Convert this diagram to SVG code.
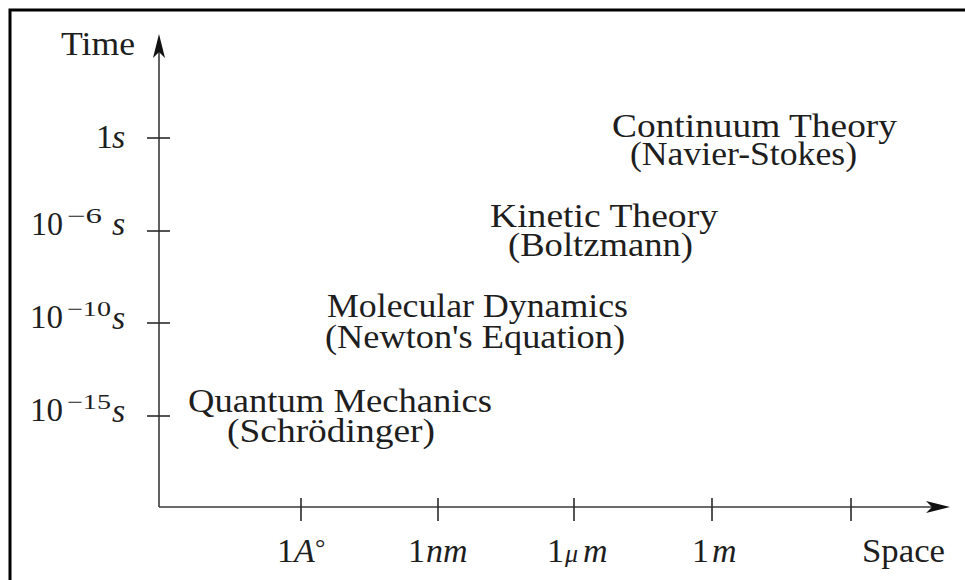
<svg xmlns="http://www.w3.org/2000/svg" width="965" height="580" viewBox="0 0 965 580">
<style>
  text { font-family: "Liberation Serif", "Times New Roman", serif; fill: #1e1e1e; }
  .lbl { font-size: 34px; }
  .ax { font-size: 34px; }
  .sup { font-size: 21px; }
  .it { font-style: italic; }
  .axis { stroke: #3a3a3a; stroke-width: 1.6; fill: none; }
  .tick { stroke: #2a2a2a; stroke-width: 1.6; }
  .head { fill: #111; stroke: none; }
</style>
<rect x="10" y="10" width="1000" height="1000" fill="#fff" stroke="#000" stroke-width="3"/>

<g id="connectors">
  <path class="axis" d="M159,507 L159,50"/>
  <path class="axis" d="M159,507 L934,507"/>
  <path class="head" d="M159,34 L165,58 L159,52 L153,58 Z"/>
  <path class="head" d="M950,507 L926,501 L932,507 L926,513 Z"/>
  <g class="tick">
    <line x1="147" y1="138" x2="170" y2="138"/>
    <line x1="147" y1="231" x2="170" y2="231"/>
    <line x1="147" y1="323" x2="170" y2="323"/>
    <line x1="147" y1="416" x2="170" y2="416"/>
    <line x1="301" y1="498" x2="301" y2="521"/>
    <line x1="438" y1="498" x2="438" y2="521"/>
    <line x1="574" y1="498" x2="574" y2="521"/>
    <line x1="712" y1="498" x2="712" y2="521"/>
    <line x1="851" y1="498" x2="851" y2="521"/>
  </g>
</g>

<g id="axis-labels">
  <text class="ax" x="61" y="55" textLength="74" lengthAdjust="spacingAndGlyphs">Time</text>
  <text class="ax" x="862" y="562" textLength="83" lengthAdjust="spacingAndGlyphs">Space</text>
</g>

<g id="time-ticks">
  <text class="ax" x="96" y="148">1<tspan class="it" x="112">s</tspan></text>
  <text class="ax" x="31" y="235" textLength="32" lengthAdjust="spacingAndGlyphs">10</text>
  <text class="sup" x="67" y="223" textLength="35" lengthAdjust="spacingAndGlyphs">−6</text>
  <text class="ax it" x="112" y="235">s</text>
  <text class="ax" x="30" y="328" textLength="33" lengthAdjust="spacingAndGlyphs">10</text>
  <text class="sup" x="67" y="316" textLength="44" lengthAdjust="spacingAndGlyphs">−10</text>
  <text class="ax it" x="112" y="329">s</text>
  <text class="ax" x="30" y="421" textLength="33" lengthAdjust="spacingAndGlyphs">10</text>
  <text class="sup" x="67" y="409" textLength="44" lengthAdjust="spacingAndGlyphs">−15</text>
  <text class="ax it" x="112" y="422">s</text>
</g>

<g id="space-ticks">
  <text class="ax" x="277" y="562">1<tspan class="it" x="294">A</tspan><tspan x="315" y="556" font-size="26">°</tspan></text>
  <text class="ax" x="408" y="562">1<tspan class="it" x="426">nm</tspan></text>
  <text class="ax" x="547" y="562">1<tspan class="it" x="565" font-size="26">μ</tspan><tspan class="it" x="583">m</tspan></text>
  <text class="ax" x="692" y="562">1<tspan class="it" x="712">m</tspan></text>
</g>

<g id="node-continuum">
  <text class="lbl" x="612" y="137" textLength="285" lengthAdjust="spacingAndGlyphs">Continuum Theory</text>
  <text class="lbl" x="630" y="165" textLength="227" lengthAdjust="spacingAndGlyphs">(Navier-Stokes)</text>
</g>

<g id="node-kinetic">
  <text class="lbl" x="490" y="227" textLength="228" lengthAdjust="spacingAndGlyphs">Kinetic Theory</text>
  <text class="lbl" x="508" y="256" textLength="185" lengthAdjust="spacingAndGlyphs">(Boltzmann)</text>
</g>

<g id="node-molecular">
  <text class="lbl" x="327" y="317" textLength="301" lengthAdjust="spacingAndGlyphs">Molecular Dynamics</text>
  <text class="lbl" x="325" y="348" textLength="300" lengthAdjust="spacingAndGlyphs">(Newton's Equation)</text>
</g>

<g id="node-quantum">
  <text class="lbl" x="188" y="412" textLength="304" lengthAdjust="spacingAndGlyphs">Quantum Mechanics</text>
  <text class="lbl" x="227" y="442" textLength="208" lengthAdjust="spacingAndGlyphs">(Schrödinger)</text>
</g>
</svg>
